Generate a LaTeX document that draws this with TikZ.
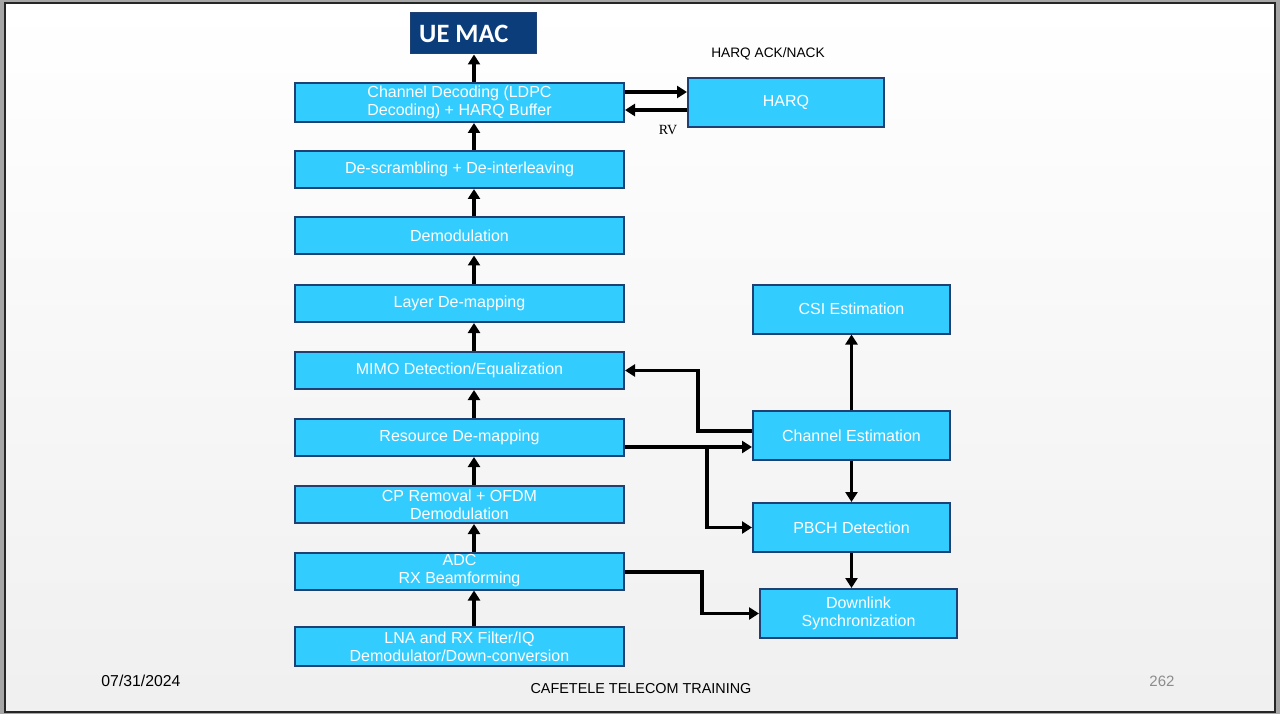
\documentclass[tikz,border=0pt]{standalone}
\usepackage{fontspec}
\setmainfont{Liberation Sans}
\newfontfamily\macfont{Carlito}
\newfontfamily\rvfont{Liberation Serif}
\usetikzlibrary{arrows.meta}
\definecolor{boxfill}{HTML}{33CCFF}
\definecolor{boxline}{HTML}{1F4072}
\definecolor{macfill}{HTML}{0B3D7B}

\begin{document}
\begin{tikzpicture}[x=1pt, y=-1pt,
  blk/.style={draw=boxline, line width=2pt, fill=boxfill, text=white, align=center,
    minimum width=329pt, minimum height=37pt, inner sep=0pt, font=\fontsize{16}{18}\selectfont},
  rblk/.style={blk, minimum width=197pt, minimum height=49pt},
  flow/.style={-{Triangle[width=12pt,length=10pt]}, line width=3.5pt, black},
  lbl/.style={font=\fontsize{13.7}{15}\selectfont, inner sep=0pt}]
  % slide and frame
  \fill[black!35] (0,0) rectangle (1280,714);
  \shade[top color=white, bottom color=black!6] (5,3) rectangle (1275,712);
  \draw[line width=1.5pt, black!85] (5,3) rectangle (1275,712);
  \useasboundingbox (0,0) rectangle (1280,714);
  % left column
  \node[draw=boxline, line width=1pt, fill=macfill, minimum width=126pt, minimum height=41pt] (mac) at (473,33.5) {};
  \node[anchor=west, text=white, inner sep=0pt, font=\macfont\bfseries\fontsize{26.5}{28}\selectfont] (mactxt) at (419,34) {UE MAC};
  \node[blk, minimum height=39pt] (dec) at (459.5,102.5) {Channel Decoding (LDPC\\Decoding) + HARQ Buffer};
  \node[blk] (descr) at (459.5,169.5) {De-scrambling + De-interleaving};
  \node[blk] (demod) at (459.5,236) {Demodulation};
  \node[blk] (layer) at (459.5,303.5) {Layer De-mapping};
  \node[blk] (mimo) at (459.5,370.5) {MIMO Detection/Equalization};
  \node[blk] (resmap) at (459.5,437.5) {Resource De-mapping};
  \node[blk] (cprem) at (459.5,504.5) {CP Removal + OFDM\\Demodulation};
  \node[blk] (adc) at (459.5,571) {ADC\\RX Beamforming};
  \node[blk, minimum height=39pt] (lna) at (459.5,646.5) {LNA and RX Filter/IQ\\Demodulator/Down-conversion};
  % right side
  \node[rblk, minimum width=196pt] (harq) at (786,102.5) {HARQ};
  \node[rblk] (csi) at (851.5,309) {CSI Estimation};
  \node[rblk] (chest) at (851.5,435.5) {Channel Estimation};
  \node[rblk] (pbch) at (851.5,527.5) {PBCH Detection};
  \node[rblk] (dlsync) at (858.5,613.5) {Downlink\\Synchronization};
  % labels
  \node[lbl] (acklbl) at (768,54) {HARQ ACK/NACK};
  \node[font=\rvfont\fontsize{14}{16}\selectfont, inner sep=0pt] (rvlbl) at (668,130) {RV};
  % receive chain
  \foreach \a/\b in {lna/adc, adc/cprem, cprem/resmap, resmap/mimo, mimo/layer, layer/demod, demod/descr, descr/dec, dec/mac}
    \draw[flow] (\a.north -| 474,0) -- (\b.south -| 474,0);
  % harq loop
  \draw[flow] (dec.east |- 0,92) -- (harq.west |- 0,92);
  \draw[flow] (harq.west |- 0,110) -- (dec.east |- 0,110);
  % estimation paths
  \draw[flow] (chest.west |- 0,431) -- (698,431) |- (mimo.east);
  \draw[flow] (resmap.east |- 0,447) -- (chest.west |- 0,447);
  \draw[flow] (707,447) |- (pbch.west);
  \draw[flow] (chest.north) -- (csi.south);
  \draw[flow] (chest.south) -- (pbch.south |- pbch.north);
  \draw[flow] (pbch.south) -- (pbch.south |- dlsync.north);
  \draw[flow] (adc.east |- 0,572) -- (702,572) |- (dlsync.west);
  % footer
  \node[lbl, font=\fontsize{15.8}{17}\selectfont] (date) at (141,681) {07/31/2024};
  \node[lbl, font=\fontsize{14.4}{16}\selectfont] (train) at (641,689) {CAFETELE TELECOM TRAINING};
  \node[lbl, text=black!45, font=\fontsize{15}{17}\selectfont] (page) at (1162,681) {262};
\end{tikzpicture}
\end{document}
